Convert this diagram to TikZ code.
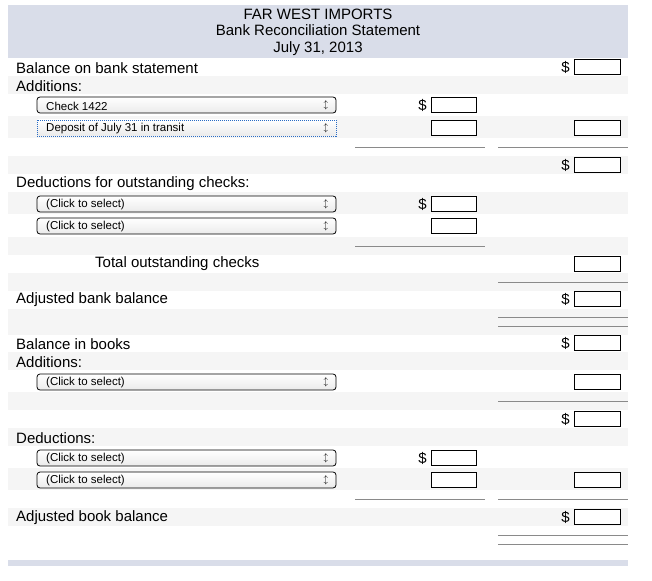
\documentclass[tikz,border=0pt]{standalone}
\usepackage{fontspec}
\setmainfont{Liberation Sans}
\definecolor{hdr}{HTML}{D9DDE9}
\definecolor{band}{HTML}{F5F5F5}
\definecolor{rule}{HTML}{8A8A8A}
\definecolor{focus}{HTML}{2A6CC4}
\tikzset{
 lbl/.style={anchor=west,inner sep=0pt,font=\fontsize{15}{16}\selectfont,yshift=-1pt},
 ddtxt/.style={anchor=west,inner sep=0pt,font=\fontsize{11.5}{12}\selectfont,yshift=-1pt},
 dd/.style={draw=black,rounded corners=3pt,line width=0.8pt,top color=white,bottom color=black!8},
 inbox/.style={draw=black,line width=0.7pt,fill=white},
 dol/.style={anchor=east,inner sep=0pt,font=\fontsize{15}{16}\selectfont},
 ln/.style={draw=rule,line width=0.8pt}
}
\newcommand{\ddbox}[3]{% y, text, style
 \path[dd,#3] (37,#1-8) rectangle (336,#1+8);
 \node[ddtxt] (dd#1) at (46,#1) {#2};
 \node[inner sep=0pt,font=\fontsize{9}{9}\selectfont] (ar#1) at (326,#1) {$\updownarrow$};
}
\newcommand{\midbox}[1]{\path[inbox] (431,#1-7.5) rectangle (476,#1+7.5);}
\newcommand{\rbox}[1]{\path[inbox] (574,#1-7.5) rectangle (620,#1+7.5);}
\newcommand{\mdol}[1]{\node[dol] (md#1) at (427,#1) {\$};}
\newcommand{\rdol}[1]{\node[dol] (rd#1) at (570,#1) {\$};}
\begin{document}
\begin{tikzpicture}[x=1pt,y=-1pt]
\useasboundingbox (0,0) rectangle (652,580);
\fill[white] (0,0) rectangle (652,580);
\foreach \a/\b in {76/94,116/138,156/174,192/214,237/255,273/291,309/335,352/370,392/410,428/446,468/490,508/526}
  \fill[band] (8,\a) rectangle (628,\b);
\fill[hdr] (8,5) rectangle (628,58);
\fill[hdr] (8,560) rectangle (628,566);
\node[font=\fontsize{15}{16}\selectfont,align=center,inner sep=0pt] (title) at (318,32) {FAR WEST IMPORTS\\[0.5pt]Bank Reconciliation Statement\\[0.5pt]July 31, 2013};
\node[lbl] (t1) at (16,67) {Balance on bank statement}; \rdol{67}\rbox{67}
\node[lbl] (t2) at (16,85) {Additions:};
\ddbox{105}{Check 1422}{} \mdol{105}\midbox{105}
\ddbox{128}{Deposit of July 31 in transit}{draw=focus,dash pattern=on 1pt off 1pt,rounded corners=0pt} \midbox{128}\rbox{128}
\draw[ln] (355,147) -- (485,147); \draw[ln] (498,147) -- (628,147);
\rdol{165}\rbox{165}
\node[lbl] (t3) at (16,183) {Deductions for outstanding checks:};
\ddbox{204}{(Click to select)}{} \mdol{204}\midbox{204}
\ddbox{226}{(Click to select)}{} \midbox{226}
\draw[ln] (355,246) -- (485,246);
\node[lbl] (t4) at (95,263) {Total outstanding checks}; \rbox{264}
\draw[ln] (498,282) -- (628,282);
\node[lbl] (t5) at (16,299) {Adjusted bank balance}; \rdol{299}\rbox{299}
\draw[ln] (498,317) -- (628,317); \draw[ln] (498,326) -- (628,326);
\node[lbl] (t6) at (16,343) {Balance in books}; \rdol{343}\rbox{343}
\node[lbl] (t7) at (16,361) {Additions:};
\ddbox{382}{(Click to select)}{} \rbox{382}
\draw[ln] (498,401) -- (628,401);
\rdol{419}\rbox{419}
\node[lbl] (t8) at (16,437) {Deductions:};
\ddbox{458}{(Click to select)}{} \mdol{458}\midbox{458}
\ddbox{480}{(Click to select)}{} \midbox{480}\rbox{480}
\draw[ln] (355,499) -- (485,499); \draw[ln] (498,499) -- (628,499);
\node[lbl] (t9) at (16,517) {Adjusted book balance}; \rdol{517}\rbox{517}
\draw[ln] (498,535) -- (628,535); \draw[ln] (498,544) -- (628,544);
\end{tikzpicture}
\end{document}
